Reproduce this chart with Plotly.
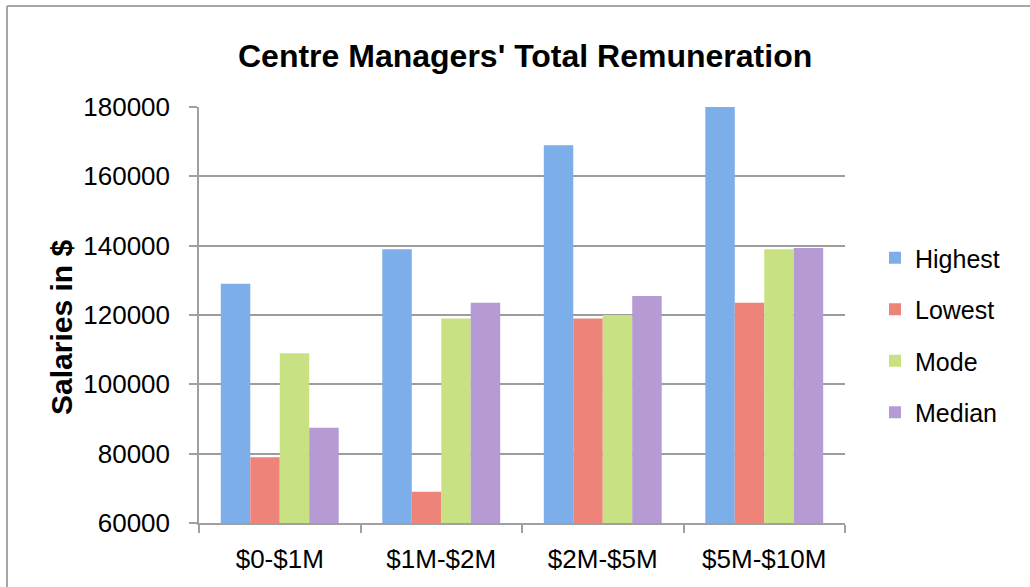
import plotly.graph_objects as go

categories = ["$0-$1M", "$1M-$2M", "$2M-$5M", "$5M-$10M"]
highest = [129000, 139000, 169000, 180000]
lowest = [79000, 69000, 119000, 123500]
mode = [109000, 119000, 120000, 139000]
median = [87500, 123500, 125500, 139300]

series = [
    ("Highest", highest, "#7CAEEA"),
    ("Lowest", lowest, "#EE8379"),
    ("Mode", mode, "#C8E283"),
    ("Median", median, "#B59AD3"),
]

FONT = "Liberation Sans, Arial, Helvetica, sans-serif"

fig = go.Figure()
for i, (name, vals, col) in enumerate(series):
    fig.add_trace(go.Bar(
        name=name, x=categories, y=vals,
        marker=dict(color=col, line=dict(width=0)),
        legendgroup=f"g{i}",
    ))

W, H = 1030, 587
L, T = 199, 107
pw, ph = 845 - 199, 523 - 107
R, B = W - L - pw, H - T - ph

def px_x(p):
    return (p - L) / pw

def px_y(p):
    return (H - B - p) / ph

fig.update_layout(
    width=W, height=H,
    margin=dict(l=L, r=R, t=T, b=B, pad=0),
    paper_bgcolor="white", plot_bgcolor="white",
    barmode="group", bargap=0.27, bargroupgap=0,
    font=dict(family=FONT, size=25, color="black"),
    showlegend=True,
    legend=dict(
        x=px_x(875), y=px_y(335), xanchor="left", yanchor="middle",
        font=dict(size=25), traceorder="grouped", tracegroupgap=16,
        itemwidth=30, bgcolor="rgba(0,0,0,0)",
    ),
    annotations=[
        dict(
            text="<b>Centre Managers' Total Remuneration</b>",
            x=px_x(525), y=px_y(56), xref="paper", yref="paper",
            xanchor="center", yanchor="middle", showarrow=False,
            font=dict(size=32, family=FONT, color="black"),
        ),
        dict(
            text="<b>Salaries in $</b>", textangle=-90,
            x=px_x(61), y=px_y(328), xref="paper", yref="paper",
            xanchor="center", yanchor="middle", showarrow=False,
            font=dict(size=30, family=FONT, color="black"),
        ),
    ],
    shapes=[
        dict(type="line", xref="paper", yref="paper",
             x0=px_x(7), x1=px_x(7), y0=px_y(6), y1=px_y(600),
             line=dict(color="#A6A6A6", width=2)),
        dict(type="line", xref="paper", yref="paper",
             x0=px_x(7), x1=px_x(1040), y0=px_y(6), y1=px_y(6),
             line=dict(color="#A6A6A6", width=2)),
    ],
)

fig.update_yaxes(
    range=[60000, 180000], dtick=20000, tick0=60000,
    showgrid=True, gridcolor="#9C9C9C", gridwidth=1.5,
    showline=True, linecolor="#A0A0A0", linewidth=1.5,
    ticks="outside", ticklen=8, tickcolor="#A0A0A0", tickwidth=1.5,
    ticklabelstandoff=14, tickformat="d",
    tickfont=dict(size=26, family=FONT),
    zeroline=False,
)
fig.update_xaxes(
    showline=True, linecolor="#A0A0A0", linewidth=1.5,
    ticks="outside", ticklen=8, tickcolor="#A0A0A0", tickwidth=1.5,
    tickson="boundaries", ticklabelstandoff=12,
    tickfont=dict(size=26, family=FONT),
    showgrid=False,
)

fig.write_html(
    "out.html",
    config={"displayModeBar": False},
    post_script="document.body.style.margin='0';document.body.style.overflow='hidden';",
)
